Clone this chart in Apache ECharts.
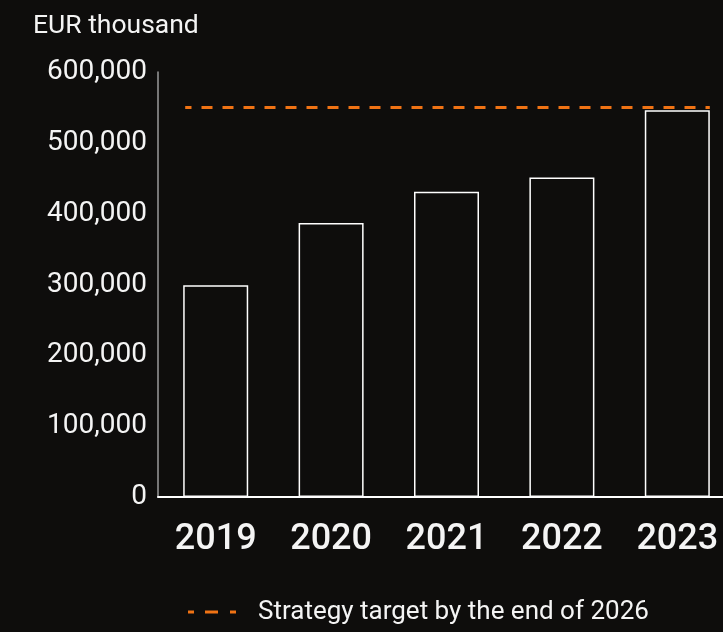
<!DOCTYPE html>
<html>
<head>
<meta charset="utf-8">
<script src="https://cdn.jsdelivr.net/npm/echarts@6/dist/echarts.min.js"></script>
<style>
  html, body { margin: 0; padding: 0; background: #0e0d0c; overflow: hidden; }
  /* the plot area runs a little past the right edge of the page */
  #chart { width: 735px; height: 632px; }
</style>
</head>
<body>
<div id="chart"></div>
<script>
// Annual values, EUR thousand
const years = ['2019', '2020', '2021', '2022', '2023'];
const values = [299000, 387000, 431000, 451000, 546000];
// Strategy target by the end of 2026
const targetValue = 550000;
const targetLabel = 'Strategy target by the end of 2026';
const yTicks = [0, 100000, 200000, 300000, 400000, 500000, 600000];

const BG = '#0e0d0c';
const FG = '#f4f4f4';
const ORANGE = '#f07314';
const BAR_WIDTH = 65;
const FONT = 'Roboto, "Noto Sans", sans-serif';

const chart = echarts.init(document.getElementById('chart'), null, { renderer: 'canvas' });

const fmt = v => v.toLocaleString('en-US');

chart.setOption({
  backgroundColor: BG,
  animation: false,
  textStyle: { fontFamily: FONT },
  title: {
    text: 'EUR thousand',
    left: 28,
    top: 8,
    textStyle: { color: FG, fontSize: 26.5, fontWeight: 'normal', fontFamily: FONT }
  },
  legend: {
    left: 183,
    top: 594,
    itemWidth: 48,
    itemHeight: 3,
    symbolKeepAspect: false,
    textStyle: { color: FG, fontSize: 26, fontFamily: FONT, padding: [0, 0, 0, 17] },
    data: [{
      name: targetLabel,
      icon: 'path://M0,0h6v3h-6z M17,0h13v3h-13z M42,0h6v3h-6z',
      itemStyle: { color: ORANGE }
    }]
  },
  grid: { left: 158, top: 72, right: 0, bottom: 135, containLabel: false },
  xAxis: {
    type: 'category',
    data: years,
    axisLine: { lineStyle: { color: '#ffffff', width: 2 } },
    axisTick: { show: false },
    axisLabel: { color: FG, fontSize: 36, fontWeight: 500, margin: 25, fontFamily: FONT }
  },
  yAxis: {
    type: 'value',
    min: yTicks[0],
    max: yTicks[yTicks.length - 1],
    interval: yTicks[1] - yTicks[0],
    axisLine: { show: true, lineStyle: { color: '#9a9a9a', width: 1.5 } },
    axisTick: { show: false },
    splitLine: { show: false },
    axisLabel: { color: FG, fontSize: 28, margin: 11, fontFamily: FONT, formatter: fmt }
  },
  series: [
    {
      type: 'bar',
      data: values,
      barWidth: BAR_WIDTH,
      itemStyle: { color: BG, borderColor: '#ffffff', borderWidth: 1.5 },
      silent: true
    },
    {
      name: targetLabel,
      type: 'custom',
      data: [[years[0], targetValue]],
      encode: { x: 0, y: 1 },
      itemStyle: { color: ORANGE },
      z: 5,
      renderItem: function (params, api) {
        const y = api.value(1);
        const first = api.coord([0, y]);
        const last = api.coord([years.length - 1, y]);
        const x0 = first[0] - BAR_WIDTH / 2 + 2;
        const x1 = last[0] + BAR_WIDTH / 2;
        return {
          type: 'line',
          shape: { x1: x0, y1: first[1], x2: x1, y2: first[1] },
          style: {
            stroke: ORANGE,
            lineWidth: 3,
            lineDash: [11, 10],
            lineDashOffset: 4.7
          }
        };
      }
    }
  ]
});
</script>
</body>
</html>
